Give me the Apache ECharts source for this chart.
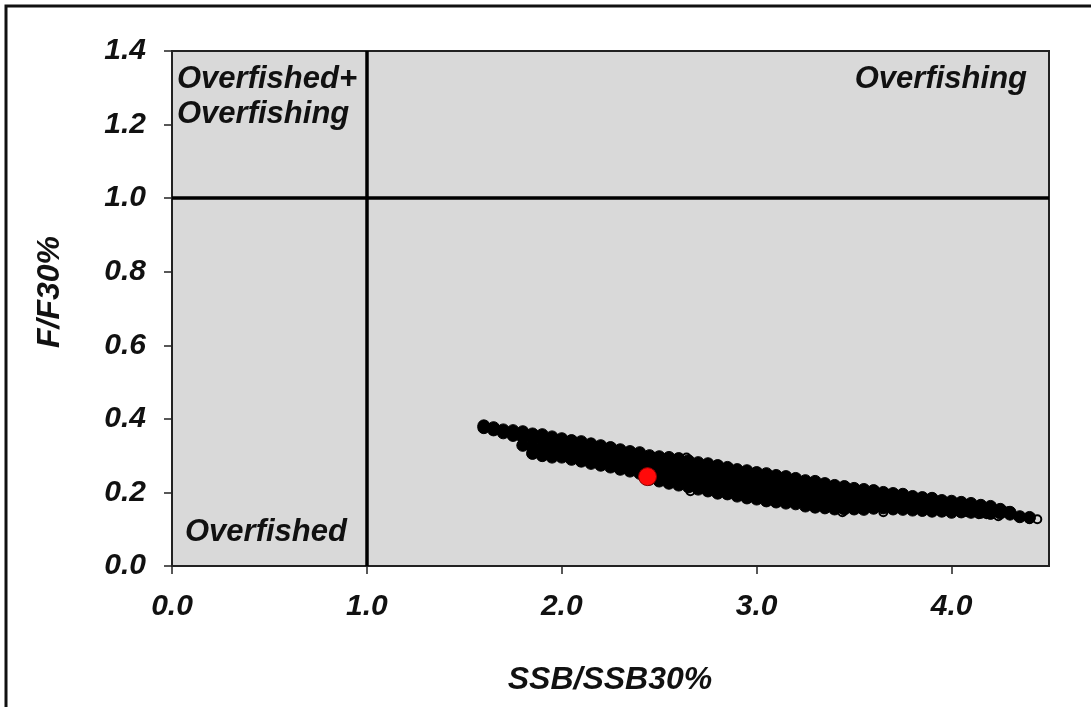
<!DOCTYPE html>
<html>
<head>
<meta charset="utf-8">
<script src="https://cdn.jsdelivr.net/npm/echarts@6/dist/echarts.min.js"></script>
<style>
  html, body { margin: 0; padding: 0; background: #fff; }
  #chart { width: 1091px; height: 707px; }
</style>
</head>
<body>
<div id="chart"></div>
<script>
// axis ticks
var xTicks = [0, 1, 2, 3, 4];
var yTicks = [0, 0.2, 0.4, 0.6, 0.8, 1.0, 1.2, 1.4];

// reference points (F = F30%, SSB = SSB30%)
var refX = 1.0;
var refY = 1.0;

// projection cloud [SSB/SSB30%, F/F30%]
var cloudPoints = [
  [1.60,0.381],[1.60,0.376],
  [1.65,0.376],[1.65,0.370],
  [1.70,0.370],[1.70,0.362],
  [1.75,0.368],[1.75,0.355],
  [1.80,0.365],[1.80,0.350],[1.80,0.328],
  [1.85,0.359],[1.85,0.345],[1.85,0.322],[1.85,0.306],
  [1.90,0.357],[1.90,0.340],[1.90,0.318],[1.90,0.300],
  [1.95,0.351],[1.95,0.333],[1.95,0.314],[1.95,0.296],
  [2.00,0.346],[2.00,0.328],[2.00,0.311],[2.00,0.296],
  [2.05,0.341],[2.05,0.324],[2.05,0.306],[2.05,0.290],
  [2.10,0.338],[2.10,0.320],[2.10,0.302],[2.10,0.285],
  [2.15,0.332],[2.15,0.314],[2.15,0.296],[2.15,0.279],
  [2.20,0.327],[2.20,0.309],[2.20,0.291],[2.20,0.274],
  [2.25,0.322],[2.25,0.304],[2.25,0.286],[2.25,0.269],
  [2.30,0.316],[2.30,0.298],[2.30,0.280],[2.30,0.263],
  [2.35,0.311],[2.35,0.293],[2.35,0.275],[2.35,0.258],
  [2.40,0.308],[2.40,0.289],[2.40,0.270],[2.40,0.252],
  [2.45,0.300],[2.45,0.282],[2.45,0.264],[2.45,0.247],[2.45,0.236],
  [2.50,0.297],[2.50,0.280],[2.50,0.262],[2.50,0.246],[2.50,0.231],
  [2.55,0.295],[2.55,0.277],[2.55,0.259],[2.55,0.241],[2.55,0.225],
  [2.60,0.292],[2.60,0.274],[2.60,0.256],[2.60,0.237],[2.60,0.220],
  [2.65,0.286],[2.65,0.268],[2.65,0.250],[2.65,0.232],[2.65,0.215],
  [2.70,0.281],[2.70,0.263],[2.70,0.245],[2.70,0.227],[2.70,0.209],
  [2.75,0.278],[2.75,0.260],[2.75,0.241],[2.75,0.222],[2.75,0.204],
  [2.80,0.273],[2.80,0.254],[2.80,0.235],[2.80,0.216],[2.80,0.198],
  [2.85,0.268],[2.85,0.250],[2.85,0.231],[2.85,0.213],[2.85,0.196],
  [2.90,0.262],[2.90,0.244],[2.90,0.226],[2.90,0.208],[2.90,0.190],
  [2.95,0.259],[2.95,0.240],[2.95,0.221],[2.95,0.202],[2.95,0.185],
  [3.00,0.254],[3.00,0.236],[3.00,0.218],[3.00,0.199],[3.00,0.182],
  [3.05,0.251],[3.05,0.232],[3.05,0.214],[3.05,0.195],[3.05,0.177],
  [3.10,0.246],[3.10,0.228],[3.10,0.209],[3.10,0.191],[3.10,0.174],
  [3.15,0.243],[3.15,0.225],[3.15,0.206],[3.15,0.188],[3.15,0.171],
  [3.20,0.238],[3.20,0.220],[3.20,0.202],[3.20,0.185],[3.20,0.169],
  [3.25,0.232],[3.25,0.214],[3.25,0.196],[3.25,0.179],[3.25,0.163],
  [3.30,0.230],[3.30,0.212],[3.30,0.194],[3.30,0.176],[3.30,0.160],
  [3.35,0.224],[3.35,0.206],[3.35,0.189],[3.35,0.172],[3.35,0.158],
  [3.40,0.219],[3.40,0.201],[3.40,0.185],[3.40,0.169],[3.40,0.155],
  [3.45,0.216],[3.45,0.199],[3.45,0.183],[3.45,0.168],[3.45,0.155],
  [3.50,0.211],[3.50,0.195],[3.50,0.180],[3.50,0.166],[3.50,0.155],
  [3.55,0.208],[3.55,0.193],[3.55,0.178],[3.55,0.165],[3.55,0.154],
  [3.60,0.205],[3.60,0.189],[3.60,0.173],[3.60,0.157],
  [3.65,0.200],[3.65,0.185],[3.65,0.171],[3.65,0.158],
  [3.70,0.197],[3.70,0.182],[3.70,0.168],[3.70,0.155],
  [3.75,0.195],[3.75,0.180],[3.75,0.166],[3.75,0.154],
  [3.80,0.189],[3.80,0.176],[3.80,0.163],[3.80,0.152],
  [3.85,0.186],[3.85,0.174],[3.85,0.162],[3.85,0.151],
  [3.90,0.184],[3.90,0.172],[3.90,0.160],[3.90,0.149],
  [3.95,0.178],[3.95,0.166],[3.95,0.155],[3.95,0.149],
  [4.00,0.176],[4.00,0.164],[4.00,0.153],[4.00,0.146],
  [4.05,0.173],[4.05,0.160],[4.05,0.147],
  [4.10,0.170],[4.10,0.158],[4.10,0.146],
  [4.15,0.165],[4.15,0.155],[4.15,0.146],
  [4.20,0.162],[4.20,0.152],[4.20,0.143],
  [4.25,0.154],[4.25,0.144],
  [4.30,0.146],[4.30,0.141],
  [4.35,0.134],[4.40,0.132]
];

// stray runs drawn as open circles
var ringPoints = [
  [3.44,0.146],[3.54,0.154],[3.65,0.146],[3.87,0.154],[3.94,0.154],
  [4.08,0.146],[4.14,0.141],[4.18,0.141],[4.24,0.135],[4.29,0.149],
  [4.40,0.127],[4.44,0.127],[2.64,0.295],[2.66,0.203],[2.55,0.227]
];

// current status
var currentPoint = [[2.44, 0.243]];

var chart = echarts.init(document.getElementById('chart'));

var FONT = '"Liberation Sans", Arial, sans-serif';
var labelFont = {
  color: '#111',
  fontFamily: FONT,
  fontStyle: 'italic',
  fontWeight: 'bold'
};

var option = {
  backgroundColor: '#fff',
  animation: false,
  grid: {
    left: 172, top: 51, right: 42, bottom: 141,
    show: true,
    backgroundColor: '#d9d9d9',
    borderColor: '#222',
    borderWidth: 2
  },
  xAxis: {
    type: 'value',
    min: 0, max: 4.5, interval: 1,
    splitLine: { show: false },
    axisLine: { show: true, onZero: false, lineStyle: { color: '#222', width: 2 } },
    axisTick: { show: true, inside: false, length: 8, customValues: xTicks, lineStyle: { color: '#222', width: 1.5 } },
    axisLabel: Object.assign({
      fontSize: 30, margin: 26, customValues: xTicks,
      formatter: function (v) { return v.toFixed(1); }
    }, labelFont)
  },
  yAxis: {
    type: 'value',
    min: 0, max: 1.4, interval: 0.2,
    splitLine: { show: false },
    axisLine: { show: true, onZero: false, lineStyle: { color: '#222', width: 2 } },
    axisTick: { show: true, inside: false, length: 8, customValues: yTicks, lineStyle: { color: '#222', width: 1.5 } },
    axisLabel: Object.assign({
      fontSize: 30, margin: 26, customValues: yTicks,
      formatter: function (v) { return v.toFixed(1); }
    }, labelFont)
  },
  graphic: [
    { type: 'rect', shape: { x: 6, y: 6, width: 1200, height: 800 }, style: { fill: 'none', stroke: '#111', lineWidth: 3 }, silent: true },
    { type: 'text', left: 177, top: 64, style: { text: 'Overfished+', fill: '#111', font: 'italic bold 31px ' + FONT } },
    { type: 'text', left: 177, top: 99, style: { text: 'Overfishing', fill: '#111', font: 'italic bold 31px ' + FONT } },
    { type: 'text', right: 64, top: 64, style: { text: 'Overfishing', fill: '#111', font: 'italic bold 31px ' + FONT } },
    { type: 'text', left: 185, top: 517, style: { text: 'Overfished', fill: '#111', font: 'italic bold 31px ' + FONT } },
    { type: 'text', x: 610, y: 680, style: { text: 'SSB/SSB30%', fill: '#111', align: 'center', verticalAlign: 'middle', font: 'italic bold 32px ' + FONT } },
    { type: 'text', x: 50, y: 292, rotation: Math.PI / 2, style: { text: 'F/F30%', fill: '#111', align: 'center', verticalAlign: 'middle', font: 'italic bold 32px ' + FONT } }
  ],
  series: [
    {
      name: 'projections',
      type: 'scatter',
      data: cloudPoints,
      symbol: 'circle',
      symbolSize: 12,
      itemStyle: { color: '#000', borderColor: '#000', borderWidth: 1, opacity: 1 },
      silent: true,
      markLine: {
        silent: true,
        symbol: 'none',
        label: { show: false },
        lineStyle: { color: '#000', width: 3.5, type: 'solid' },
        data: [{ xAxis: refX }, { yAxis: refY }]
      }
    },
    {
      name: 'stray',
      type: 'scatter',
      data: ringPoints,
      symbol: 'circle',
      symbolSize: 8,
      itemStyle: { color: 'rgba(0,0,0,0)', borderColor: '#000', borderWidth: 2, opacity: 1 },
      silent: true
    },
    {
      name: 'current',
      type: 'scatter',
      data: currentPoint,
      symbol: 'circle',
      symbolSize: 18,
      itemStyle: { color: '#ff0a0a', borderColor: '#8a0000', borderWidth: 1, opacity: 1 },
      silent: true,
      z: 5
    }
  ]
};

chart.setOption(option);
</script>
</body>
</html>
